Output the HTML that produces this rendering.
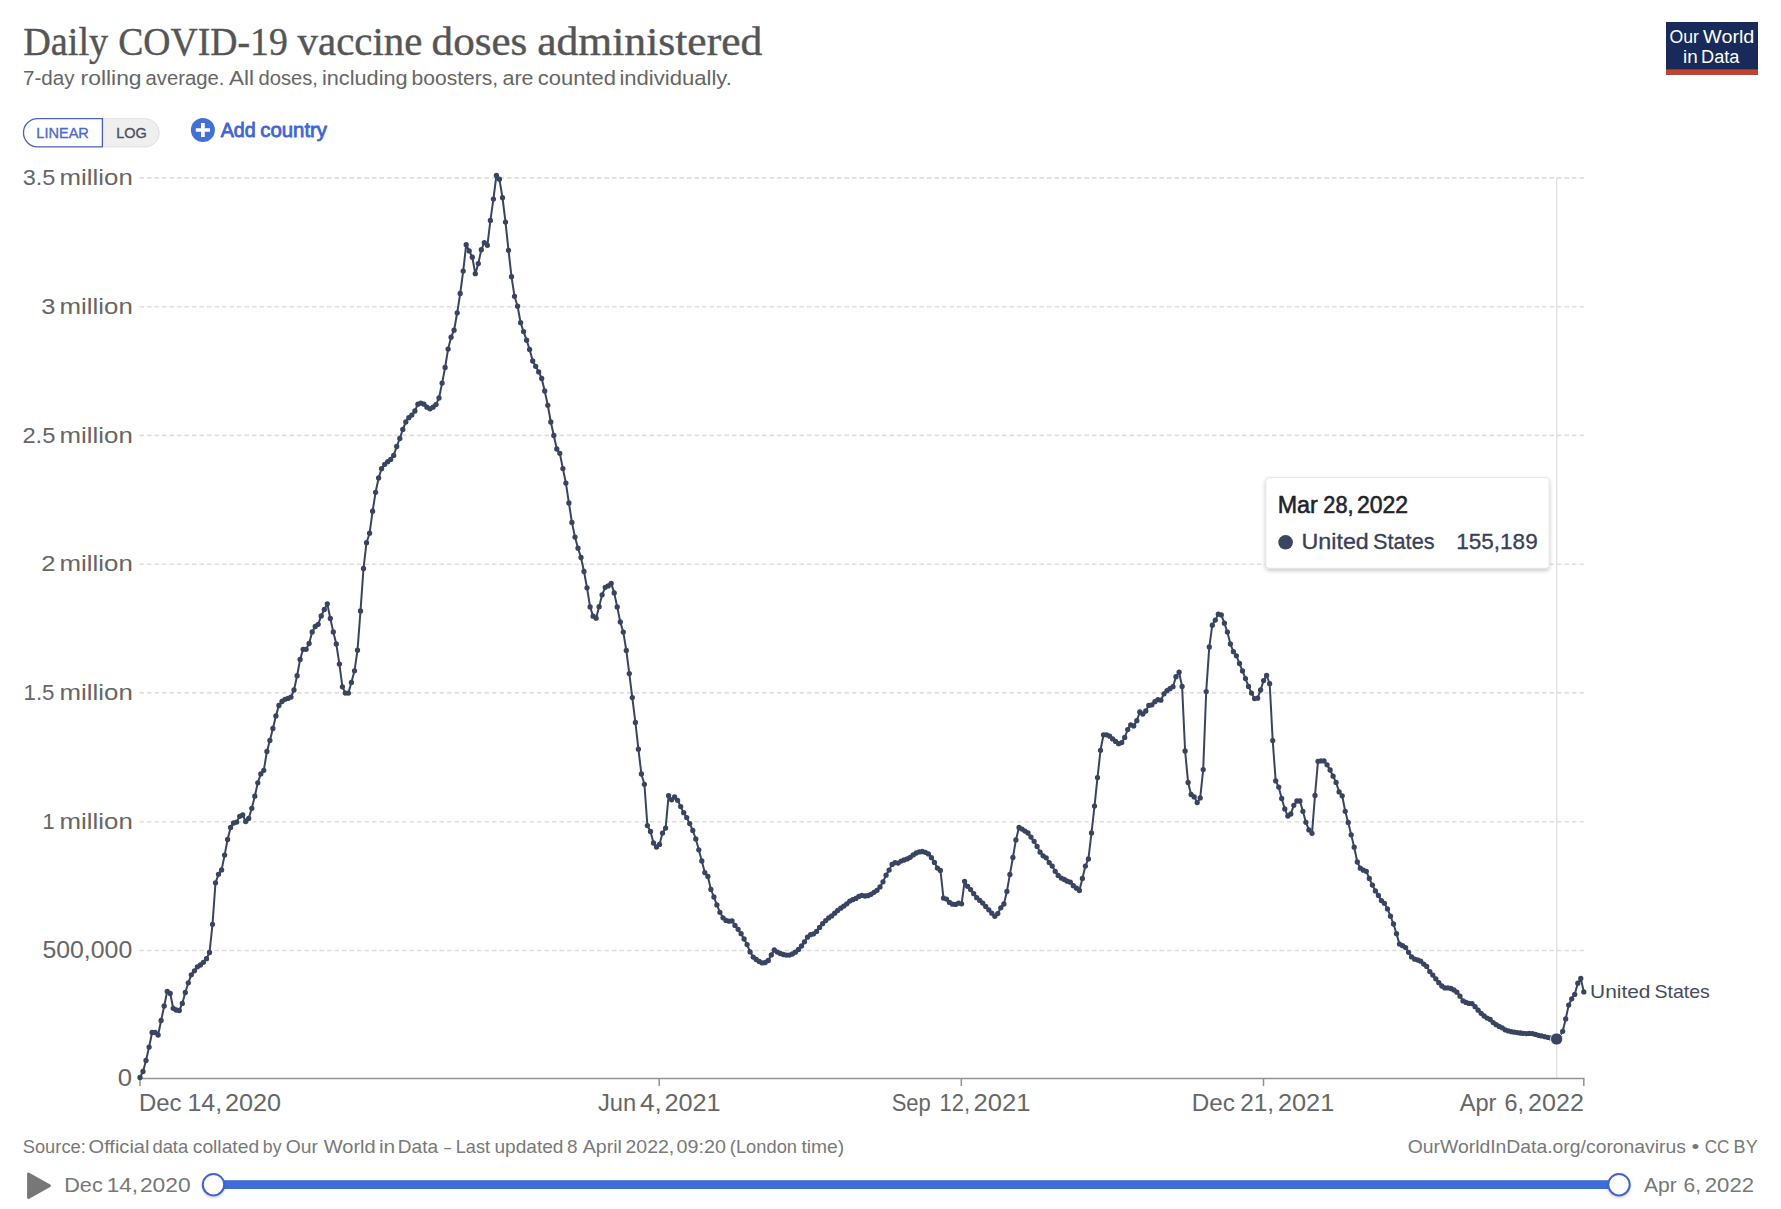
<!DOCTYPE html>
<html lang="en"><head><meta charset="utf-8"><title>Daily COVID-19 vaccine doses administered</title>
<style>
html,body{margin:0;padding:0;background:#fff;}
body{width:1781px;height:1209px;overflow:hidden;font-family:"Liberation Sans",sans-serif;}
svg{display:block;}
.s{font-family:"Liberation Sans",sans-serif;}
.f{font-family:"Liberation Serif",serif;}
</style></head><body>
<svg width="1781" height="1209" viewBox="0 0 1781 1209">
<defs>
<filter id="sh" x="-10%" y="-20%" width="120%" height="150%"><feGaussianBlur in="SourceAlpha" stdDeviation="2"/><feOffset dx="0" dy="2"/><feComponentTransfer><feFuncA type="linear" slope="0.22"/></feComponentTransfer><feMerge><feMergeNode/><feMergeNode in="SourceGraphic"/></feMerge></filter>
<filter id="hs" x="-30%" y="-30%" width="160%" height="170%"><feGaussianBlur in="SourceAlpha" stdDeviation="1.2"/><feOffset dx="0" dy="1.5"/><feComponentTransfer><feFuncA type="linear" slope="0.14"/></feComponentTransfer><feMerge><feMergeNode/><feMergeNode in="SourceGraphic"/></feMerge></filter>
</defs>
<rect width="1781" height="1209" fill="#fff"/>
<g id="title">
<text class="f" x="23.2" y="54.8" font-size="40.2" fill="#555" font-weight="normal" textLength="84.95" lengthAdjust="spacingAndGlyphs" stroke="#555" stroke-width="0.4">Daily</text>
<text class="f" x="118.26" y="54.8" font-size="40.2" fill="#555" font-weight="normal" textLength="169.49" lengthAdjust="spacingAndGlyphs" stroke="#555" stroke-width="0.4">COVID-19</text>
<text class="f" x="297.6" y="54.8" font-size="40.2" fill="#555" font-weight="normal" textLength="124.82" lengthAdjust="spacingAndGlyphs" stroke="#555" stroke-width="0.4">vaccine</text>
<text class="f" x="431.64" y="54.8" font-size="40.2" fill="#555" font-weight="normal" textLength="95.71" lengthAdjust="spacingAndGlyphs" stroke="#555" stroke-width="0.4">doses</text>
<text class="f" x="537.17" y="54.8" font-size="40.2" fill="#555" font-weight="normal" textLength="225.27" lengthAdjust="spacingAndGlyphs" stroke="#555" stroke-width="0.4">administered</text>
</g>
<g id="subtitle">
<text class="s" x="23.04" y="85.4" font-size="20.5" fill="#666" font-weight="normal" textLength="51.6" lengthAdjust="spacingAndGlyphs">7-day</text>
<text class="s" x="80.58" y="85.4" font-size="20.5" fill="#666" font-weight="normal" textLength="60.99" lengthAdjust="spacingAndGlyphs">rolling</text>
<text class="s" x="145.54" y="85.4" font-size="20.5" fill="#666" font-weight="normal" textLength="78.91" lengthAdjust="spacingAndGlyphs">average.</text>
<text class="s" x="228.96" y="85.4" font-size="20.5" fill="#666" font-weight="normal" textLength="25.05" lengthAdjust="spacingAndGlyphs">All</text>
<text class="s" x="258.45" y="85.4" font-size="20.5" fill="#666" font-weight="normal" textLength="59.46" lengthAdjust="spacingAndGlyphs">doses,</text>
<text class="s" x="321.95" y="85.4" font-size="20.5" fill="#666" font-weight="normal" textLength="85.65" lengthAdjust="spacingAndGlyphs">including</text>
<text class="s" x="411.64" y="85.4" font-size="20.5" fill="#666" font-weight="normal" textLength="86.55" lengthAdjust="spacingAndGlyphs">boosters,</text>
<text class="s" x="502.49" y="85.4" font-size="20.5" fill="#666" font-weight="normal" textLength="31.07" lengthAdjust="spacingAndGlyphs">are</text>
<text class="s" x="537.77" y="85.4" font-size="20.5" fill="#666" font-weight="normal" textLength="78.15" lengthAdjust="spacingAndGlyphs">counted</text>
<text class="s" x="619.42" y="85.4" font-size="20.5" fill="#666" font-weight="normal" textLength="112.49" lengthAdjust="spacingAndGlyphs">individually.</text>
</g>
<g id="logo"><rect x="1666" y="22" width="92" height="52.7" fill="#172a59"/><rect x="1666" y="69.3" width="92" height="5.4" fill="#c8402a"/>
<text class="s" x="1669.46" y="42.7" font-size="19.2" fill="#fff" font-weight="normal" textLength="29.43" lengthAdjust="spacingAndGlyphs">Our</text>
<text class="s" x="1703.11" y="42.7" font-size="19.2" fill="#fff" font-weight="normal" textLength="51.26" lengthAdjust="spacingAndGlyphs">World</text>
<text class="s" x="1683.04" y="62.7" font-size="19.2" fill="#fff" font-weight="normal" textLength="14.69" lengthAdjust="spacingAndGlyphs">in</text>
<text class="s" x="1701.01" y="62.7" font-size="19.2" fill="#fff" font-weight="normal" textLength="38.39" lengthAdjust="spacingAndGlyphs">Data</text>
</g>
<g id="scale">
<path d="M102.4,118.7H145.2a14.1,14.1 0 0 1 0,28.2H102.4Z" fill="#efefef" stroke="#e0e0e0" stroke-width="1"/>
<path d="M102.4,118.7H37.6a14.1,14.1 0 0 0 0,28.2H102.4Z" fill="#fff" stroke="#4b62bd" stroke-width="1.3"/>
<text class="s" x="36.31" y="137.8" font-size="15.0" fill="#4a69cc" font-weight="normal" textLength="52.57" lengthAdjust="spacingAndGlyphs" stroke="#4a69cc" stroke-width="0.35">LINEAR</text>
<text class="s" x="116.31" y="137.8" font-size="15.0" fill="#4c505c" font-weight="normal" textLength="30.57" lengthAdjust="spacingAndGlyphs" stroke="#4c505c" stroke-width="0.35">LOG</text>
</g>
<g id="add"><circle cx="202.9" cy="130" r="12" fill="#4070d8"/><path d="M202.9,122.9v14.2M195.8,130h14.2" stroke="#fff" stroke-width="3.7" fill="none"/>
<text class="s" x="220.76" y="137.3" font-size="19.8" fill="#4165d4" font-weight="normal" textLength="35.01" lengthAdjust="spacingAndGlyphs" stroke="#4165d4" stroke-width="0.8" stroke-linejoin="round">Add</text>
<text class="s" x="260.34" y="137.3" font-size="19.8" fill="#4165d4" font-weight="normal" textLength="66.7" lengthAdjust="spacingAndGlyphs" stroke="#4165d4" stroke-width="0.8" stroke-linejoin="round">country</text>
</g>
<g id="grid" stroke="#dfdfdf" stroke-width="1.6" stroke-dasharray="4.5,3" fill="none">
<path d="M139.5,177.9H1583.8"/>
<path d="M139.5,306.7H1583.8"/>
<path d="M139.5,435.4H1583.8"/>
<path d="M139.5,564.2H1583.8"/>
<path d="M139.5,692.9H1583.8"/>
<path d="M139.5,821.7H1583.8"/>
<path d="M139.5,950.5H1583.8"/>
</g>
<g id="ylabels">
<text class="s" x="22.7" y="185.1" font-size="22.8" fill="#666" font-weight="normal" textLength="32.68" lengthAdjust="spacingAndGlyphs">3.5</text>
<text class="s" x="59.58" y="185.1" font-size="22.8" fill="#666" font-weight="normal" textLength="73.19" lengthAdjust="spacingAndGlyphs">million</text>
<text class="s" x="41.33" y="313.9" font-size="22.8" fill="#666" font-weight="normal" textLength="14.19" lengthAdjust="spacingAndGlyphs">3</text>
<text class="s" x="59.58" y="313.9" font-size="22.8" fill="#666" font-weight="normal" textLength="73.19" lengthAdjust="spacingAndGlyphs">million</text>
<text class="s" x="22.41" y="442.6" font-size="22.8" fill="#666" font-weight="normal" textLength="32.99" lengthAdjust="spacingAndGlyphs">2.5</text>
<text class="s" x="59.58" y="442.6" font-size="22.8" fill="#666" font-weight="normal" textLength="73.19" lengthAdjust="spacingAndGlyphs">million</text>
<text class="s" x="41.21" y="571.4" font-size="22.8" fill="#666" font-weight="normal" textLength="14.28" lengthAdjust="spacingAndGlyphs">2</text>
<text class="s" x="59.58" y="571.4" font-size="22.8" fill="#666" font-weight="normal" textLength="73.19" lengthAdjust="spacingAndGlyphs">million</text>
<text class="s" x="23.5" y="700.1" font-size="22.8" fill="#666" font-weight="normal" textLength="31.04" lengthAdjust="spacingAndGlyphs">1.5</text>
<text class="s" x="59.58" y="700.1" font-size="22.8" fill="#666" font-weight="normal" textLength="73.19" lengthAdjust="spacingAndGlyphs">million</text>
<text class="s" x="42.54" y="828.9" font-size="22.8" fill="#666" font-weight="normal" textLength="12.13" lengthAdjust="spacingAndGlyphs">1</text>
<text class="s" x="59.58" y="828.9" font-size="22.8" fill="#666" font-weight="normal" textLength="73.19" lengthAdjust="spacingAndGlyphs">million</text>
<text class="s" x="42.4" y="957.7" font-size="23.4" fill="#666" font-weight="normal" textLength="89.87" lengthAdjust="spacingAndGlyphs">500,000</text>
<text class="s" x="117.89" y="1086.4" font-size="23.4" fill="#666" font-weight="normal" textLength="14.31" lengthAdjust="spacingAndGlyphs">0</text>
</g>
<path d="M1556.7,177.6V1078.6" stroke="#e0e0e0" stroke-width="1.3" fill="none"/>
<g id="xaxis" stroke="#929292" stroke-width="1.5" fill="none"><path d="M139.3,1078.6H1584.5"/><path d="M140,1078.6v7.5"/><path d="M659.2,1078.6v7.5"/><path d="M961.3,1078.6v7.5"/><path d="M1263.5,1078.6v7.5"/><path d="M1583.8,1078.6v7.5"/></g>
<g id="xlabels">
<text class="s" x="138.94" y="1110.8" font-size="23.4" fill="#666" font-weight="normal" textLength="42.49" lengthAdjust="spacingAndGlyphs">Dec</text>
<text class="s" x="187.4" y="1110.8" font-size="23.4" fill="#666" font-weight="normal" textLength="34.75" lengthAdjust="spacingAndGlyphs">14,</text>
<text class="s" x="225.03" y="1110.8" font-size="23.4" fill="#666" font-weight="normal" textLength="56.16" lengthAdjust="spacingAndGlyphs">2020</text>
<text class="s" x="597.93" y="1110.8" font-size="23.4" fill="#666" font-weight="normal" textLength="38.31" lengthAdjust="spacingAndGlyphs">Jun</text>
<text class="s" x="640.0" y="1110.8" font-size="23.4" fill="#666" font-weight="normal" textLength="21.86" lengthAdjust="spacingAndGlyphs">4,</text>
<text class="s" x="664.43" y="1110.8" font-size="23.4" fill="#666" font-weight="normal" textLength="56.2" lengthAdjust="spacingAndGlyphs">2021</text>
<text class="s" x="891.7" y="1110.8" font-size="23.4" fill="#666" font-weight="normal" textLength="39.12" lengthAdjust="spacingAndGlyphs">Sep</text>
<text class="s" x="939.53" y="1110.8" font-size="23.4" fill="#666" font-weight="normal" textLength="30.55" lengthAdjust="spacingAndGlyphs">12,</text>
<text class="s" x="973.61" y="1110.8" font-size="23.4" fill="#666" font-weight="normal" textLength="56.94" lengthAdjust="spacingAndGlyphs">2021</text>
<text class="s" x="1191.71" y="1110.8" font-size="23.4" fill="#666" font-weight="normal" textLength="43.13" lengthAdjust="spacingAndGlyphs">Dec</text>
<text class="s" x="1240.17" y="1110.8" font-size="23.4" fill="#666" font-weight="normal" textLength="33.92" lengthAdjust="spacingAndGlyphs">21,</text>
<text class="s" x="1277.92" y="1110.8" font-size="23.4" fill="#666" font-weight="normal" textLength="56.41" lengthAdjust="spacingAndGlyphs">2021</text>
<text class="s" x="1459.75" y="1110.8" font-size="23.4" fill="#666" font-weight="normal" textLength="36.74" lengthAdjust="spacingAndGlyphs">Apr</text>
<text class="s" x="1504.41" y="1110.8" font-size="23.4" fill="#666" font-weight="normal" textLength="19.49" lengthAdjust="spacingAndGlyphs">6,</text>
<text class="s" x="1528.04" y="1110.8" font-size="23.4" fill="#666" font-weight="normal" textLength="55.82" lengthAdjust="spacingAndGlyphs">2022</text>
</g>
<polyline points="140.0,1077.5 143.0,1071.5 146.0,1060.5 149.1,1047.1 152.1,1032.5 155.1,1032.5 158.1,1035.0 161.1,1020.5 164.2,1006.0 167.2,991.3 170.2,993.5 173.2,1008.3 176.2,1010.0 179.3,1010.5 182.3,1003.4 185.3,992.5 188.3,982.8 191.3,974.8 194.4,970.8 197.4,966.8 200.4,965.0 203.4,962.3 206.5,958.7 209.5,952.5 212.5,924.3 215.5,882.8 218.5,874.3 221.6,869.9 224.6,855.1 227.6,839.5 230.6,827.5 233.6,823.0 236.7,822.1 239.7,816.3 242.7,815.0 245.7,821.5 248.7,818.5 251.8,808.3 254.8,796.2 257.8,782.8 260.8,773.9 263.8,770.3 266.9,751.5 269.9,740.4 272.9,728.4 275.9,715.9 278.9,705.5 282.0,701.5 285.0,699.3 288.0,698.4 291.0,697.1 294.0,690.0 297.1,675.7 300.1,659.5 303.1,649.3 306.1,649.3 309.1,643.5 312.2,631.9 315.2,626.5 318.2,624.3 321.2,615.9 324.3,609.5 327.3,603.8 330.3,618.5 333.3,631.9 336.3,644.0 339.4,664.1 342.4,686.8 345.4,693.1 348.4,693.1 351.4,682.4 354.5,670.8 357.5,650.2 360.5,610.9 363.5,568.5 366.5,542.7 369.6,533.2 372.6,511.2 375.6,492.3 378.6,478 381.6,468.7 384.7,464.3 387.7,461.7 390.7,459.4 393.7,455.4 396.7,446.5 399.8,438.5 402.8,429.4 405.8,422 408.8,417.7 411.8,415.1 414.9,411 417.9,404.2 420.9,403.2 423.9,404.2 426.9,407.2 430.0,408.8 433.0,407.2 436.0,404.6 439.0,398 442.1,383.1 445.1,367.5 448.1,349.1 451.1,337.2 454.1,330.2 457.2,312.8 460.2,293.5 463.2,271.1 466.2,244.7 469.2,250.9 472.3,257.2 475.3,273.7 478.3,263.6 481.3,249.7 484.3,242.7 487.4,245.3 490.4,220.5 493.4,199.1 496.4,175.5 499.4,179.2 502.5,197.7 505.5,222.1 508.5,250.3 511.5,276.7 514.5,296.3 517.6,306.2 520.6,322.7 523.6,331.6 526.6,340.2 529.6,349.5 532.7,361 535.7,366.3 538.7,371.9 541.7,378.5 544.7,391 547.8,405.3 550.8,422 553.8,435.5 556.8,449 559.8,453.3 562.9,468.6 565.9,483.1 568.9,502.9 571.9,522.4 575.0,537.1 578.0,548.2 581.0,557.5 584.0,571.5 587.0,587.8 590.1,606.9 593.1,616.2 596.1,618.2 599.1,606.7 602.1,594.8 605.2,587.3 608.2,585.9 611.2,583.4 614.2,592.9 617.2,606.9 620.3,622 623.3,632.1 626.3,650.4 629.3,673.6 632.3,697.6 635.4,722.4 638.4,749.2 641.4,774 644.4,784.3 647.4,825.6 650.5,831.5 653.5,843 656.5,847 659.5,844.4 662.5,833.1 665.6,828.1 668.6,795.7 671.6,799.8 674.6,797 677.6,800.3 680.7,806.6 683.7,812.7 686.7,817.6 689.7,823.6 692.8,830.5 695.8,839 698.8,849.8 701.8,860.9 704.8,872.6 707.9,876.5 710.9,889.4 713.9,897 716.9,904.9 719.9,912.3 723.0,917.8 726.0,920.4 729.0,921.2 732.0,920.8 735.0,925.4 738.1,929.3 741.1,933.7 744.1,939 747.1,944.6 750.1,951.9 753.2,957.1 756.2,959.5 759.2,961.5 762.2,962.9 765.2,962.5 768.3,960.5 771.3,954.9 774.3,950 777.3,952.1 780.3,953.5 783.4,954.5 786.4,955.1 789.4,955.1 792.4,954 795.4,952.2 798.5,949.5 801.5,946 804.5,941.8 807.5,937.2 810.6,934.7 813.6,933.8 816.6,931.4 819.6,927.4 822.6,923.7 825.7,920.6 828.7,917.9 831.7,915.9 834.7,913.2 837.7,910.5 840.8,908.2 843.8,906.1 846.8,903.8 849.8,901.1 852.8,899.7 855.9,898.4 858.9,896.4 861.9,895.3 864.9,896 867.9,895.7 871.0,894.3 874.0,892.3 877.0,890.3 880.0,886.9 883.0,881.8 886.1,875.2 889.1,870.1 892.1,864.4 895.1,862.7 898.1,863.1 901.2,861.1 904.2,860 907.2,858.9 910.2,857.3 913.2,854.9 916.3,853 919.3,851.9 922.3,851.5 925.3,852.3 928.4,853.9 931.4,857.7 934.4,862.4 937.4,868.1 940.4,870.4 943.5,898.1 946.5,899.1 949.5,902.4 952.5,904.2 955.5,904.4 958.6,903.1 961.6,903.8 964.6,881.3 967.6,886.3 970.6,889.6 973.7,893.7 976.7,897.7 979.7,900.4 982.7,903.1 985.7,906.5 988.8,909.8 991.8,913.2 994.8,916.3 997.8,913.6 1000.8,907.8 1003.9,904 1006.9,891.4 1009.9,874.4 1012.9,857.5 1015.9,839.9 1019.0,827.5 1022.0,829.1 1025.0,831.1 1028.0,833 1031.0,837.1 1034.1,841.3 1037.1,846.4 1040.1,852.2 1043.1,855.8 1046.2,857.8 1049.2,862.6 1052.2,866.1 1055.2,871.3 1058.2,875.4 1061.3,878.1 1064.3,879.5 1067.3,881.2 1070.3,882.2 1073.3,885.7 1076.4,888.2 1079.4,890.5 1082.4,878.5 1085.4,866.1 1088.4,858.9 1091.5,833 1094.5,806.1 1097.5,777.6 1100.5,750.3 1103.5,734.8 1106.6,734.8 1109.6,736.2 1112.6,738.9 1115.6,741.4 1118.6,743.7 1121.7,742.6 1124.7,737.5 1127.7,729.6 1130.7,724.9 1133.7,725.9 1136.8,720.7 1139.8,712 1142.8,714.1 1145.8,711 1148.8,705.4 1151.9,704.8 1154.9,701.7 1157.9,699.6 1160.9,700.2 1164.0,693.8 1167.0,690.7 1170.0,688.7 1173.0,686.7 1176.0,676.7 1179.1,672.2 1182.1,686.5 1185.1,751 1188.1,782.4 1191.1,794.5 1194.2,796.9 1197.2,802.6 1200.2,797.9 1203.2,769.6 1206.2,691.6 1209.3,646.9 1212.3,625.2 1215.3,620.1 1218.3,614.1 1221.3,614.9 1224.4,623.2 1227.4,632.1 1230.4,644 1233.4,651.7 1236.4,655.8 1239.5,663.5 1242.5,670.9 1245.5,678.6 1248.5,686.4 1251.5,693.1 1254.6,698.6 1257.6,698.2 1260.6,690 1263.6,680.6 1266.6,675.5 1269.7,683.7 1272.7,740.6 1275.7,780.9 1278.7,787.1 1281.7,798.5 1284.8,808.9 1287.8,816.1 1290.8,814 1293.8,805.3 1296.9,801 1299.9,801 1302.9,811.3 1305.9,822.3 1308.9,829.9 1312.0,833.3 1315.0,795.4 1318.0,761.3 1321.0,760.9 1324.0,760.9 1327.1,764.8 1330.1,770 1333.1,776.2 1336.1,782.4 1339.1,791.9 1342.2,795.8 1345.2,811.3 1348.2,822.4 1351.2,834.8 1354.2,847.2 1357.3,862 1360.3,868.2 1363.3,870.2 1366.3,871.3 1369.3,878.5 1372.4,885.1 1375.4,890.9 1378.4,895.5 1381.4,900.6 1384.4,903.3 1387.5,908.9 1390.5,916.2 1393.5,924 1396.5,933.7 1399.5,944.1 1402.6,945.7 1405.6,947.6 1408.6,952.3 1411.6,956.9 1414.7,959.2 1417.7,960 1420.7,961.2 1423.7,964.1 1426.7,966.4 1429.8,971.6 1432.8,975.1 1435.8,978.8 1438.8,982.7 1441.8,986 1444.9,987.9 1447.9,987.9 1450.9,988.5 1453.9,990 1456.9,992.2 1460.0,996.2 1463.0,1000.9 1466.0,1002.4 1469.0,1003.4 1472.0,1003.6 1475.1,1006.7 1478.1,1010.2 1481.1,1013.3 1484.1,1016 1487.1,1018.1 1490.2,1019.5 1493.2,1022.6 1496.2,1024.7 1499.2,1026.4 1502.2,1027.8 1505.3,1029.9 1508.3,1030.9 1511.3,1031.7 1514.3,1032.2 1517.3,1032.6 1520.4,1033 1523.4,1033.4 1526.4,1033.6 1529.4,1033.4 1532.5,1033.6 1535.5,1034.4 1538.5,1035.3 1541.5,1035.9 1544.5,1036.6 1547.6,1037.3 1550.6,1037.9 1553.6,1038.5 1556.6,1039.0 1559.6,1036.6 1562.7,1031.3 1565.7,1018.9 1568.7,1005.1 1571.7,998.8 1574.7,994.4 1577.8,983.2 1580.8,978.5 1583.8,991.9" fill="none" stroke="#394460" stroke-width="2" stroke-linejoin="round" stroke-linecap="round"/>
<path d="M140.0,1077.5h0M143.0,1071.5h0M146.0,1060.5h0M149.1,1047.1h0M152.1,1032.5h0M155.1,1032.5h0M158.1,1035.0h0M161.1,1020.5h0M164.2,1006.0h0M167.2,991.3h0M170.2,993.5h0M173.2,1008.3h0M176.2,1010.0h0M179.3,1010.5h0M182.3,1003.4h0M185.3,992.5h0M188.3,982.8h0M191.3,974.8h0M194.4,970.8h0M197.4,966.8h0M200.4,965.0h0M203.4,962.3h0M206.5,958.7h0M209.5,952.5h0M212.5,924.3h0M215.5,882.8h0M218.5,874.3h0M221.6,869.9h0M224.6,855.1h0M227.6,839.5h0M230.6,827.5h0M233.6,823.0h0M236.7,822.1h0M239.7,816.3h0M242.7,815.0h0M245.7,821.5h0M248.7,818.5h0M251.8,808.3h0M254.8,796.2h0M257.8,782.8h0M260.8,773.9h0M263.8,770.3h0M266.9,751.5h0M269.9,740.4h0M272.9,728.4h0M275.9,715.9h0M278.9,705.5h0M282.0,701.5h0M285.0,699.3h0M288.0,698.4h0M291.0,697.1h0M294.0,690.0h0M297.1,675.7h0M300.1,659.5h0M303.1,649.3h0M306.1,649.3h0M309.1,643.5h0M312.2,631.9h0M315.2,626.5h0M318.2,624.3h0M321.2,615.9h0M324.3,609.5h0M327.3,603.8h0M330.3,618.5h0M333.3,631.9h0M336.3,644.0h0M339.4,664.1h0M342.4,686.8h0M345.4,693.1h0M348.4,693.1h0M351.4,682.4h0M354.5,670.8h0M357.5,650.2h0M360.5,610.9h0M363.5,568.5h0M366.5,542.7h0M369.6,533.2h0M372.6,511.2h0M375.6,492.3h0M378.6,478h0M381.6,468.7h0M384.7,464.3h0M387.7,461.7h0M390.7,459.4h0M393.7,455.4h0M396.7,446.5h0M399.8,438.5h0M402.8,429.4h0M405.8,422h0M408.8,417.7h0M411.8,415.1h0M414.9,411h0M417.9,404.2h0M420.9,403.2h0M423.9,404.2h0M426.9,407.2h0M430.0,408.8h0M433.0,407.2h0M436.0,404.6h0M439.0,398h0M442.1,383.1h0M445.1,367.5h0M448.1,349.1h0M451.1,337.2h0M454.1,330.2h0M457.2,312.8h0M460.2,293.5h0M463.2,271.1h0M466.2,244.7h0M469.2,250.9h0M472.3,257.2h0M475.3,273.7h0M478.3,263.6h0M481.3,249.7h0M484.3,242.7h0M487.4,245.3h0M490.4,220.5h0M493.4,199.1h0M496.4,175.5h0M499.4,179.2h0M502.5,197.7h0M505.5,222.1h0M508.5,250.3h0M511.5,276.7h0M514.5,296.3h0M517.6,306.2h0M520.6,322.7h0M523.6,331.6h0M526.6,340.2h0M529.6,349.5h0M532.7,361h0M535.7,366.3h0M538.7,371.9h0M541.7,378.5h0M544.7,391h0M547.8,405.3h0M550.8,422h0M553.8,435.5h0M556.8,449h0M559.8,453.3h0M562.9,468.6h0M565.9,483.1h0M568.9,502.9h0M571.9,522.4h0M575.0,537.1h0M578.0,548.2h0M581.0,557.5h0M584.0,571.5h0M587.0,587.8h0M590.1,606.9h0M593.1,616.2h0M596.1,618.2h0M599.1,606.7h0M602.1,594.8h0M605.2,587.3h0M608.2,585.9h0M611.2,583.4h0M614.2,592.9h0M617.2,606.9h0M620.3,622h0M623.3,632.1h0M626.3,650.4h0M629.3,673.6h0M632.3,697.6h0M635.4,722.4h0M638.4,749.2h0M641.4,774h0M644.4,784.3h0M647.4,825.6h0M650.5,831.5h0M653.5,843h0M656.5,847h0M659.5,844.4h0M662.5,833.1h0M665.6,828.1h0M668.6,795.7h0M671.6,799.8h0M674.6,797h0M677.6,800.3h0M680.7,806.6h0M683.7,812.7h0M686.7,817.6h0M689.7,823.6h0M692.8,830.5h0M695.8,839h0M698.8,849.8h0M701.8,860.9h0M704.8,872.6h0M707.9,876.5h0M710.9,889.4h0M713.9,897h0M716.9,904.9h0M719.9,912.3h0M723.0,917.8h0M726.0,920.4h0M729.0,921.2h0M732.0,920.8h0M735.0,925.4h0M738.1,929.3h0M741.1,933.7h0M744.1,939h0M747.1,944.6h0M750.1,951.9h0M753.2,957.1h0M756.2,959.5h0M759.2,961.5h0M762.2,962.9h0M765.2,962.5h0M768.3,960.5h0M771.3,954.9h0M774.3,950h0M777.3,952.1h0M780.3,953.5h0M783.4,954.5h0M786.4,955.1h0M789.4,955.1h0M792.4,954h0M795.4,952.2h0M798.5,949.5h0M801.5,946h0M804.5,941.8h0M807.5,937.2h0M810.6,934.7h0M813.6,933.8h0M816.6,931.4h0M819.6,927.4h0M822.6,923.7h0M825.7,920.6h0M828.7,917.9h0M831.7,915.9h0M834.7,913.2h0M837.7,910.5h0M840.8,908.2h0M843.8,906.1h0M846.8,903.8h0M849.8,901.1h0M852.8,899.7h0M855.9,898.4h0M858.9,896.4h0M861.9,895.3h0M864.9,896h0M867.9,895.7h0M871.0,894.3h0M874.0,892.3h0M877.0,890.3h0M880.0,886.9h0M883.0,881.8h0M886.1,875.2h0M889.1,870.1h0M892.1,864.4h0M895.1,862.7h0M898.1,863.1h0M901.2,861.1h0M904.2,860h0M907.2,858.9h0M910.2,857.3h0M913.2,854.9h0M916.3,853h0M919.3,851.9h0M922.3,851.5h0M925.3,852.3h0M928.4,853.9h0M931.4,857.7h0M934.4,862.4h0M937.4,868.1h0M940.4,870.4h0M943.5,898.1h0M946.5,899.1h0M949.5,902.4h0M952.5,904.2h0M955.5,904.4h0M958.6,903.1h0M961.6,903.8h0M964.6,881.3h0M967.6,886.3h0M970.6,889.6h0M973.7,893.7h0M976.7,897.7h0M979.7,900.4h0M982.7,903.1h0M985.7,906.5h0M988.8,909.8h0M991.8,913.2h0M994.8,916.3h0M997.8,913.6h0M1000.8,907.8h0M1003.9,904h0M1006.9,891.4h0M1009.9,874.4h0M1012.9,857.5h0M1015.9,839.9h0M1019.0,827.5h0M1022.0,829.1h0M1025.0,831.1h0M1028.0,833h0M1031.0,837.1h0M1034.1,841.3h0M1037.1,846.4h0M1040.1,852.2h0M1043.1,855.8h0M1046.2,857.8h0M1049.2,862.6h0M1052.2,866.1h0M1055.2,871.3h0M1058.2,875.4h0M1061.3,878.1h0M1064.3,879.5h0M1067.3,881.2h0M1070.3,882.2h0M1073.3,885.7h0M1076.4,888.2h0M1079.4,890.5h0M1082.4,878.5h0M1085.4,866.1h0M1088.4,858.9h0M1091.5,833h0M1094.5,806.1h0M1097.5,777.6h0M1100.5,750.3h0M1103.5,734.8h0M1106.6,734.8h0M1109.6,736.2h0M1112.6,738.9h0M1115.6,741.4h0M1118.6,743.7h0M1121.7,742.6h0M1124.7,737.5h0M1127.7,729.6h0M1130.7,724.9h0M1133.7,725.9h0M1136.8,720.7h0M1139.8,712h0M1142.8,714.1h0M1145.8,711h0M1148.8,705.4h0M1151.9,704.8h0M1154.9,701.7h0M1157.9,699.6h0M1160.9,700.2h0M1164.0,693.8h0M1167.0,690.7h0M1170.0,688.7h0M1173.0,686.7h0M1176.0,676.7h0M1179.1,672.2h0M1182.1,686.5h0M1185.1,751h0M1188.1,782.4h0M1191.1,794.5h0M1194.2,796.9h0M1197.2,802.6h0M1200.2,797.9h0M1203.2,769.6h0M1206.2,691.6h0M1209.3,646.9h0M1212.3,625.2h0M1215.3,620.1h0M1218.3,614.1h0M1221.3,614.9h0M1224.4,623.2h0M1227.4,632.1h0M1230.4,644h0M1233.4,651.7h0M1236.4,655.8h0M1239.5,663.5h0M1242.5,670.9h0M1245.5,678.6h0M1248.5,686.4h0M1251.5,693.1h0M1254.6,698.6h0M1257.6,698.2h0M1260.6,690h0M1263.6,680.6h0M1266.6,675.5h0M1269.7,683.7h0M1272.7,740.6h0M1275.7,780.9h0M1278.7,787.1h0M1281.7,798.5h0M1284.8,808.9h0M1287.8,816.1h0M1290.8,814h0M1293.8,805.3h0M1296.9,801h0M1299.9,801h0M1302.9,811.3h0M1305.9,822.3h0M1308.9,829.9h0M1312.0,833.3h0M1315.0,795.4h0M1318.0,761.3h0M1321.0,760.9h0M1324.0,760.9h0M1327.1,764.8h0M1330.1,770h0M1333.1,776.2h0M1336.1,782.4h0M1339.1,791.9h0M1342.2,795.8h0M1345.2,811.3h0M1348.2,822.4h0M1351.2,834.8h0M1354.2,847.2h0M1357.3,862h0M1360.3,868.2h0M1363.3,870.2h0M1366.3,871.3h0M1369.3,878.5h0M1372.4,885.1h0M1375.4,890.9h0M1378.4,895.5h0M1381.4,900.6h0M1384.4,903.3h0M1387.5,908.9h0M1390.5,916.2h0M1393.5,924h0M1396.5,933.7h0M1399.5,944.1h0M1402.6,945.7h0M1405.6,947.6h0M1408.6,952.3h0M1411.6,956.9h0M1414.7,959.2h0M1417.7,960h0M1420.7,961.2h0M1423.7,964.1h0M1426.7,966.4h0M1429.8,971.6h0M1432.8,975.1h0M1435.8,978.8h0M1438.8,982.7h0M1441.8,986h0M1444.9,987.9h0M1447.9,987.9h0M1450.9,988.5h0M1453.9,990h0M1456.9,992.2h0M1460.0,996.2h0M1463.0,1000.9h0M1466.0,1002.4h0M1469.0,1003.4h0M1472.0,1003.6h0M1475.1,1006.7h0M1478.1,1010.2h0M1481.1,1013.3h0M1484.1,1016h0M1487.1,1018.1h0M1490.2,1019.5h0M1493.2,1022.6h0M1496.2,1024.7h0M1499.2,1026.4h0M1502.2,1027.8h0M1505.3,1029.9h0M1508.3,1030.9h0M1511.3,1031.7h0M1514.3,1032.2h0M1517.3,1032.6h0M1520.4,1033h0M1523.4,1033.4h0M1526.4,1033.6h0M1529.4,1033.4h0M1532.5,1033.6h0M1535.5,1034.4h0M1538.5,1035.3h0M1541.5,1035.9h0M1544.5,1036.6h0M1547.6,1037.3h0M1550.6,1037.9h0M1553.6,1038.5h0M1556.6,1039.0h0M1559.6,1036.6h0M1562.7,1031.3h0M1565.7,1018.9h0M1568.7,1005.1h0M1571.7,998.8h0M1574.7,994.4h0M1577.8,983.2h0M1580.8,978.5h0M1583.8,991.9h0" fill="none" stroke="#394460" stroke-width="5.3" stroke-linecap="round"/>
<circle cx="1556.6" cy="1039" r="6.1" fill="#394460" stroke="#fff" stroke-width="0.8"/>
<text class="s" x="1590.09" y="997.8" font-size="18.6" fill="#454b5c" font-weight="normal" textLength="60.36" lengthAdjust="spacingAndGlyphs">United</text>
<text class="s" x="1654.51" y="997.8" font-size="18.6" fill="#454b5c" font-weight="normal" textLength="55.39" lengthAdjust="spacingAndGlyphs">States</text>
<g id="tooltip"><rect x="1265.8" y="477.6" width="283.3" height="90.7" rx="3" ry="3" fill="#fff" stroke="#e3e3e3" stroke-width="1" filter="url(#sh)"/>
<text class="s" x="1277.69" y="512.6" font-size="23" fill="#20232b" font-weight="normal" textLength="40.1" lengthAdjust="spacingAndGlyphs" stroke="#20232b" stroke-width="0.55" stroke-linejoin="round">Mar</text>
<text class="s" x="1323.31" y="512.6" font-size="23" fill="#20232b" font-weight="normal" textLength="30.25" lengthAdjust="spacingAndGlyphs" stroke="#20232b" stroke-width="0.55" stroke-linejoin="round">28,</text>
<text class="s" x="1357.04" y="512.6" font-size="23" fill="#20232b" font-weight="normal" textLength="51.11" lengthAdjust="spacingAndGlyphs" stroke="#20232b" stroke-width="0.55" stroke-linejoin="round">2022</text>
<circle cx="1285.6" cy="542.3" r="7.3" fill="#3b4560"/>
<text class="s" x="1301.5" y="549.4" font-size="22.4" fill="#384058" font-weight="normal" textLength="67.3" lengthAdjust="spacingAndGlyphs" stroke="#384058" stroke-width="0.3">United</text>
<text class="s" x="1373.01" y="549.4" font-size="22.4" fill="#384058" font-weight="normal" textLength="61.57" lengthAdjust="spacingAndGlyphs" stroke="#384058" stroke-width="0.3">States</text>
<text class="s" x="1456.29" y="549.4" font-size="22.4" fill="#384058" font-weight="normal" textLength="81.38" lengthAdjust="spacingAndGlyphs" stroke="#384058" stroke-width="0.3">155,189</text>
</g>
<g id="footer">
<text class="s" x="22.77" y="1152.6" font-size="19" fill="#787878" font-weight="normal" textLength="63.0" lengthAdjust="spacingAndGlyphs">Source:</text>
<text class="s" x="88.55" y="1152.6" font-size="19" fill="#787878" font-weight="normal" textLength="60.89" lengthAdjust="spacingAndGlyphs">Official</text>
<text class="s" x="152.43" y="1152.6" font-size="19" fill="#787878" font-weight="normal" textLength="35.77" lengthAdjust="spacingAndGlyphs">data</text>
<text class="s" x="192.78" y="1152.6" font-size="19" fill="#787878" font-weight="normal" textLength="66.36" lengthAdjust="spacingAndGlyphs">collated</text>
<text class="s" x="262.86" y="1152.6" font-size="19" fill="#787878" font-weight="normal" textLength="18.67" lengthAdjust="spacingAndGlyphs">by</text>
<text class="s" x="285.89" y="1152.6" font-size="19" fill="#787878" font-weight="normal" textLength="32.13" lengthAdjust="spacingAndGlyphs">Our</text>
<text class="s" x="323.81" y="1152.6" font-size="19" fill="#787878" font-weight="normal" textLength="51.88" lengthAdjust="spacingAndGlyphs">World</text>
<text class="s" x="378.9" y="1152.6" font-size="19" fill="#787878" font-weight="normal" textLength="16.25" lengthAdjust="spacingAndGlyphs">in</text>
<text class="s" x="397.84" y="1152.6" font-size="19" fill="#787878" font-weight="normal" textLength="40.26" lengthAdjust="spacingAndGlyphs">Data</text>
<text class="s" x="444.3" y="1152.6" font-size="19" fill="#787878" font-weight="normal" textLength="6.81" lengthAdjust="spacingAndGlyphs">–</text>
<text class="s" x="455.82" y="1152.6" font-size="19" fill="#787878" font-weight="normal" textLength="34.11" lengthAdjust="spacingAndGlyphs">Last</text>
<text class="s" x="494.46" y="1152.6" font-size="19" fill="#787878" font-weight="normal" textLength="68.97" lengthAdjust="spacingAndGlyphs">updated</text>
<text class="s" x="567.08" y="1152.6" font-size="19" fill="#787878" font-weight="normal" textLength="10.55" lengthAdjust="spacingAndGlyphs">8</text>
<text class="s" x="582.66" y="1152.6" font-size="19" fill="#787878" font-weight="normal" textLength="39.25" lengthAdjust="spacingAndGlyphs">April</text>
<text class="s" x="625.52" y="1152.6" font-size="19" fill="#787878" font-weight="normal" textLength="48.73" lengthAdjust="spacingAndGlyphs">2022,</text>
<text class="s" x="676.63" y="1152.6" font-size="19" fill="#787878" font-weight="normal" textLength="49.24" lengthAdjust="spacingAndGlyphs">09:20</text>
<text class="s" x="729.87" y="1152.6" font-size="19" fill="#787878" font-weight="normal" textLength="67.12" lengthAdjust="spacingAndGlyphs">(London</text>
<text class="s" x="801.41" y="1152.6" font-size="19" fill="#787878" font-weight="normal" textLength="42.79" lengthAdjust="spacingAndGlyphs">time)</text>
<text class="s" x="1407.78" y="1152.6" font-size="19" fill="#787878" font-weight="normal" textLength="278.22" lengthAdjust="spacingAndGlyphs">OurWorldInData.org/coronavirus</text>
<text class="s" x="1691.62" y="1152.6" font-size="19" fill="#787878" font-weight="normal" textLength="7.75" lengthAdjust="spacingAndGlyphs">•</text>
<text class="s" x="1704.63" y="1152.6" font-size="19" fill="#787878" font-weight="normal" textLength="24.72" lengthAdjust="spacingAndGlyphs">CC</text>
<text class="s" x="1733.62" y="1152.6" font-size="19" fill="#787878" font-weight="normal" textLength="24.08" lengthAdjust="spacingAndGlyphs">BY</text>
</g>
<g id="timeline">
<path d="M28.5,1174L49.5,1185.7L28.5,1197.5Z" fill="#777" stroke="#777" stroke-width="2.8" stroke-linejoin="round"/>
<text class="s" x="64.22" y="1191.6" font-size="20.8" fill="#777" font-weight="normal" textLength="38.55" lengthAdjust="spacingAndGlyphs">Dec</text>
<text class="s" x="106.79" y="1191.6" font-size="20.8" fill="#777" font-weight="normal" textLength="31.23" lengthAdjust="spacingAndGlyphs">14,</text>
<text class="s" x="139.95" y="1191.6" font-size="20.8" fill="#777" font-weight="normal" textLength="50.74" lengthAdjust="spacingAndGlyphs">2020</text>
<rect x="213.4" y="1180.2" width="1405.3" height="8.8" fill="#3f6dd8"/>
<circle cx="213.5" cy="1184.7" r="10.7" fill="#fff" stroke="#3f63cf" stroke-width="2" filter="url(#hs)"/>
<circle cx="1619" cy="1184.7" r="10.7" fill="#fff" stroke="#3f63cf" stroke-width="2" filter="url(#hs)"/>
<text class="s" x="1643.96" y="1191.6" font-size="20.8" fill="#777" font-weight="normal" textLength="32.69" lengthAdjust="spacingAndGlyphs">Apr</text>
<text class="s" x="1683.64" y="1191.6" font-size="20.8" fill="#777" font-weight="normal" textLength="17.44" lengthAdjust="spacingAndGlyphs">6,</text>
<text class="s" x="1704.79" y="1191.6" font-size="20.8" fill="#777" font-weight="normal" textLength="49.23" lengthAdjust="spacingAndGlyphs">2022</text>
</g>
</svg>
</body></html>
